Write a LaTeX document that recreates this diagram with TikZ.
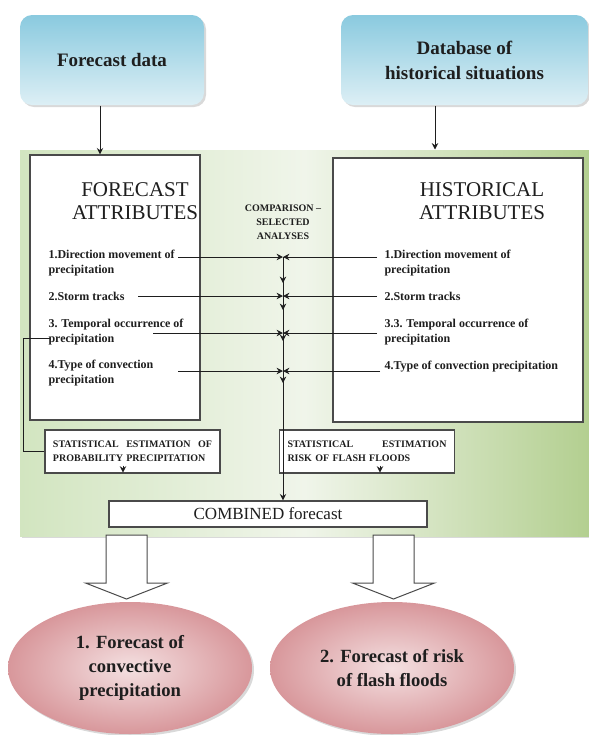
\documentclass[tikz,border=0pt]{standalone}
\usepackage{fontspec}
\setmainfont{Liberation Serif}
\usetikzlibrary{arrows.meta,calc,shapes.geometric,shadows}
\definecolor{skyhi}{HTML}{8ACADF}
\definecolor{skylo}{HTML}{DDEFF5}
\definecolor{leafl}{HTML}{D2E5C0}
\definecolor{leafm}{HTML}{F0F5EA}
\definecolor{leafr}{HTML}{B3CF90}
\definecolor{roseo}{HTML}{D8979B}
\definecolor{rosei}{HTML}{F4E0E1}
\definecolor{ink}{HTML}{1E1E1E}
\definecolor{rule}{HTML}{4A4A4A}

\begin{document}
\begin{tikzpicture}[
  x=0.5pt, y=-0.5pt, line width=.5pt, draw=ink, text=ink,
  flow/.style={draw=ink, line width=.5pt, -{Stealth[length=3.2pt,width=3.2pt]}},
  source/.style={rounded corners=6pt, top color=skyhi, bottom color=skylo, draw=none,
    drop shadow={opacity=.3, shadow xshift=1pt, shadow yshift=-1pt},
    font=\bfseries\fontsize{9.5}{12.5}\selectfont, align=center, inner sep=0pt,
    minimum height=45pt},
  attrbox/.style={draw=rule, fill=white, line width=.6pt, inner sep=0pt},
  head/.style={font=\fontsize{10.5}{11.5}\selectfont, align=center, inner sep=0pt},
  item/.style={font=\bfseries\fontsize{6}{7.5}\selectfont, align=left, anchor=north west, inner sep=0pt},
  estbox/.style={attrbox, minimum width=87.5pt, minimum height=21.5pt,
    font=\bfseries\fontsize{5}{7}\selectfont, align=left, text width=79.5pt},
  result/.style={ellipse, minimum width=122pt, minimum height=66pt, inner sep=0pt,
    inner color=rosei, outer color=roseo, draw=none,
    drop shadow={opacity=.3, shadow xshift=1pt, shadow yshift=-1pt},
    font=\bfseries\fontsize{9.3}{12}\selectfont, align=center},
]
  \useasboundingbox (0,0) rectangle (589,735);

  % Green panel holding both attribute boxes.
  \node[draw=none, left color=leafl, right color=leafr, middle color=leafm,
    minimum width=284.5pt, minimum height=193pt, inner sep=0pt,
    drop shadow={opacity=.3, shadow xshift=1pt, shadow yshift=-1pt}] (panel) at (304.5,343) {};

  % Data sources.
  \node[source, minimum width=92pt] (src1) at (112,60) {Forecast data};
  \node[source, minimum width=123.5pt] (src2) at (464.5,60) {Database of\\historical situations};

  % Attribute boxes and titles.
  \node[attrbox, minimum width=85pt, minimum height=132.5pt] (fattr) at (115,287.5) {};
  \node[attrbox, minimum width=125pt, minimum height=132pt] (hattr) at (458,290) {};
  \node[head] (fhead) at (135,201) {FORECAST\\ATTRIBUTES};
  \node[head] (hhead) at (482,201) {HISTORICAL\\ATTRIBUTES};
  \node[font=\bfseries\fontsize{5}{7}\selectfont, align=center, inner sep=0pt] (comp) at (283,222)
    {COMPARISON --\\SELECTED\\ANALYSES};

  \node[item] (f1) at (48,250) {1.Direction movement of\\precipitation};
  \node[item] (f2) at (48,292) {2.Storm tracks};
  \node[item] (f3) at (48,319) {3. Temporal occurrence of\\precipitation};
  \node[item] (f4) at (48,360) {4.Type of convection\\precipitation};
  \node[item] (h1) at (384,250) {1.Direction movement of\\precipitation};
  \node[item] (h2) at (384,292) {2.Storm tracks};
  \node[item] (h3) at (384,319) {3.3. Temporal occurrence of\\precipitation};
  \node[item] (h4) at (384,361) {4.Type of convection precipitation};

  % Statistical estimates and the combined forecast.
  \node[estbox] (est1) at (132.5,451.5) {STATISTICAL\hfill ESTIMATION\hfill OF\\PROBABILITY PRECIPITATION};
  \node[estbox] (est2) at (367,451.5) {STATISTICAL\hfill ESTIMATION\\RISK OF FLASH FLOODS};
  \node[attrbox, minimum width=159pt, minimum height=13pt,
    font=\fontsize{8.5}{10}\selectfont] (comb) at (268,514) {COMBINED forecast};

  % Outputs.
  \node[result] (out1) at (130,668) {1. Forecast of\\convective\\precipitation};
  \node[result] (out2) at (392,668) {2. Forecast of risk\\of flash floods};

  % Inputs into the panel.
  \coordinate (t1) at ($(src1.south)+(-12,0)$);
  \coordinate (t2) at ($(src2.south)+(-29.5,0)$);
  \draw[flow] (t1) -- (t1 |- fattr.north);
  \draw[flow] (t2) -- (t2 |- panel.north);

  % Comparison lines meet on the central spine.
  \foreach \i/\yl/\xl/\xr in {1/257/178/377, 2/296/138/377, 3/333/153/377, 4/371/178/380} {
    \coordinate (l\i) at (\xl,\yl);
    \coordinate (r\i) at (\xr,\yl);
    \coordinate (j\i) at (283,\yl);
    \draw[flow] (l\i) -- (j\i);
    \draw[flow] (r\i) -- (j\i);
  }
  \draw[flow] (j1) -- (j1 |- comb.north);
  \foreach \i/\d in {1/26, 2/14, 3/8, 4/12}
    \draw[flow] (j\i) -- ++(0,\d);

  % Feedback from the temporal attribute to the probability estimate.
  \coordinate (fbs) at (50,338);
  \coordinate (fb) at (23,338);
  \draw (fbs) -- (fb) |- (est1.west);

  \draw[flow] ($(est1.south)+(-9.5,-8)$) -- ++(0,7);
  \draw[flow] ($(est2.south)+(13,-8)$) -- ++(0,7);

  % Hollow arrows down to the two forecasts.
  \foreach \cx in {126.5,393.5}
    \draw[draw=rule, fill=white] (\cx-20.5,535) -- (\cx-20.5,583) -- (\cx-41,583) -- (\cx,599)
      -- (\cx+41,583) -- (\cx+20.5,583) -- (\cx+20.5,535) -- cycle;
\end{tikzpicture}
\end{document}
